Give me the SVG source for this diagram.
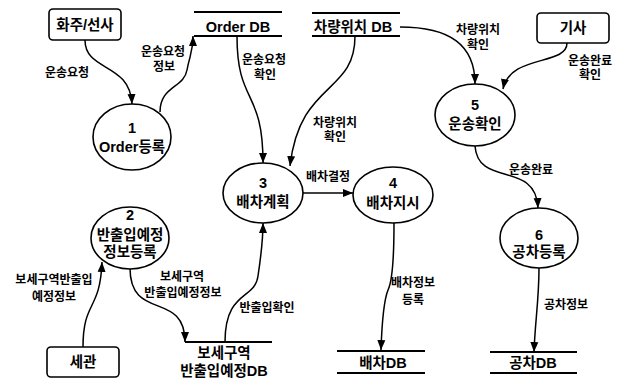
<svg xmlns="http://www.w3.org/2000/svg" width="624" height="378" viewBox="0 0 624 378">
<style>
text{font-family:"Liberation Sans","Noto Sans CJK KR",sans-serif;fill:#000;text-anchor:middle}
.n{font-size:14.5px;font-weight:700}
.l{font-size:12px;font-weight:700}
.shape{fill:#fff;stroke:#000;stroke-width:1.6}
.st{stroke:#000;stroke-width:1.8;fill:none}
.c{fill:none;stroke:#000;stroke-width:1.5;marker-end:url(#ah)}
</style>
<defs>
<marker id="ah" viewBox="0 0 10 10" refX="10" refY="5" markerWidth="10" markerHeight="10" markerUnits="userSpaceOnUse" orient="auto">
<path d="M0,1 L10,5 L0,9 Z" fill="#000"/>
</marker>
</defs>
<rect width="624" height="378" fill="#fff"/>

<g id="connectors">
<path class="c" d="M85,40 C85,72 130,62 132,104"/>
<path class="c" d="M160,112 C160,86 184,88 187,70 C190,54 193,52 193,36"/>
<path class="c" d="M237,36 C237,105 263,88 263,163"/>
<path class="c" d="M355,36 C355,95 300,80 290,166"/>
<path class="c" d="M400,27 C450,27 475,45 475,84"/>
<path class="c" d="M567,43 C567,66 510,54 503,89"/>
<path class="c" d="M475,146 C478,188 536,160 538,208"/>
<path class="c" d="M303,193 L353,193"/>
<path class="c" d="M394,223 C394,268 391,284 388,290 C384,300 382,320 381,350"/>
<path class="c" d="M539,268 C539,300 535,322 534,352"/>
<path class="c" d="M83,347 C83,300 100,312 102,262"/>
<path class="c" d="M130,268 C130,322 185,290 185,342"/>
<path class="c" d="M225,342 C225,290 255,300 258,276 C261,256 263,242 263,223"/>
</g>

<g id="labels">
<text class="l" x="67" y="77">운송요청</text>
<text class="l" x="163" y="56">운송요청</text>
<text class="l" x="164" y="71">정보</text>
<text class="l" x="264" y="64">운송요청</text>
<text class="l" x="265" y="79">확인</text>
<text class="l" x="335" y="127">차량위치</text>
<text class="l" x="335" y="141">확인</text>
<text class="l" x="478" y="34">차량위치</text>
<text class="l" x="478" y="49">확인</text>
<text class="l" x="590" y="65">운송완료</text>
<text class="l" x="590" y="79">확인</text>
<text class="l" x="531" y="174">운송완료</text>
<text class="l" x="328" y="181">배차결정</text>
<text class="l" x="54" y="284">보세구역반출입</text>
<text class="l" x="54" y="301">예정정보</text>
<text class="l" x="182" y="281">보세구역</text>
<text class="l" x="183" y="297">반출입예정정보</text>
<text class="l" x="267" y="312">반출입확인</text>
<text class="l" x="413" y="287">배차정보</text>
<text class="l" x="413" y="304">등록</text>
<text class="l" x="566" y="309">공차정보</text>
</g>

<g id="ext-shipper">
<rect class="shape" x="49" y="9" width="72" height="31" rx="4"/>
<text class="n" x="85" y="30">화주/선사</text>
</g>
<g id="ext-driver">
<rect class="shape" x="537" y="13" width="72" height="30" rx="4"/>
<text class="n" x="573" y="33">기사</text>
</g>
<g id="ext-customs">
<rect class="shape" x="47" y="347" width="72" height="30" rx="4"/>
<text class="n" x="83" y="367">세관</text>
</g>

<g id="store-order">
<path class="st" d="M194,12 H282 M194,36 H282"/>
<text class="n" x="238" y="32">Order DB</text>
</g>
<g id="store-vehicle">
<path class="st" d="M312,13 H400 M312,36 H400"/>
<text class="n" x="353" y="32">차량위치 DB</text>
</g>
<g id="store-bonded">
<path class="st" d="M185,342 H272"/>
<text class="n" x="224" y="358">보세구역</text>
<text class="n" x="224" y="376">반출입예정DB</text>
</g>
<g id="store-dispatch">
<path class="st" d="M337,351 H425 M337,373 H425"/>
<text class="n" x="383" y="368">배차DB</text>
</g>
<g id="store-empty">
<path class="st" d="M490,352 H577 M490,373 H577"/>
<text class="n" x="533" y="368">공차DB</text>
</g>

<g id="p1">
<ellipse class="shape" cx="132" cy="137" rx="39" ry="33"/>
<text class="n" x="132" y="133">1</text>
<text class="n" x="132" y="152">Order등록</text>
</g>
<g id="p2">
<ellipse class="shape" cx="130" cy="238" rx="39" ry="31"/>
<text class="n" x="130" y="220">2</text>
<text class="n" x="130" y="240">반출입예정</text>
<text class="n" x="130" y="257">정보등록</text>
</g>
<g id="p3">
<ellipse class="shape" cx="263" cy="193" rx="40" ry="30"/>
<text class="n" x="263" y="188">3</text>
<text class="n" x="263" y="207">배차계획</text>
</g>
<g id="p4">
<ellipse class="shape" cx="393" cy="195" rx="40" ry="28"/>
<text class="n" x="393" y="188">4</text>
<text class="n" x="393" y="208">배차지시</text>
</g>
<g id="p5">
<ellipse class="shape" cx="475" cy="115" rx="40" ry="31"/>
<text class="n" x="475" y="110">5</text>
<text class="n" x="475" y="129">운송확인</text>
</g>
<g id="p6">
<ellipse class="shape" cx="539" cy="238" rx="39" ry="30"/>
<text class="n" x="539" y="240">6</text>
<text class="n" x="539" y="257">공차등록</text>
</g>
</svg>
